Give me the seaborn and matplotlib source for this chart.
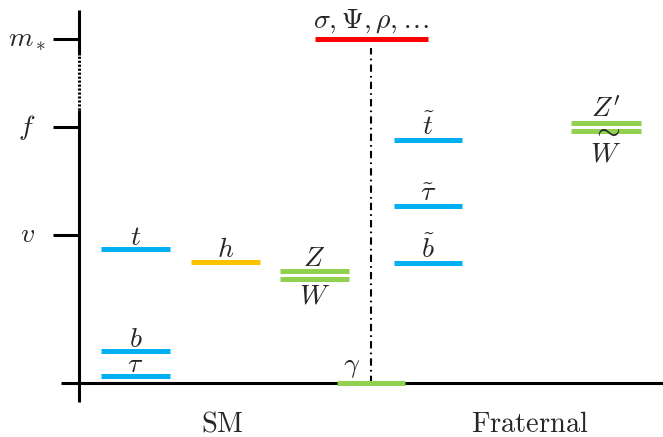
import matplotlib
matplotlib.use("Agg")
import matplotlib.pyplot as plt
import seaborn as sns
import pandas as pd

sns.set_style("white")
plt.rcParams["mathtext.fontset"] = "cm"
plt.rcParams["font.family"] = ["DejaVu Serif"]

# ---- data (energy scale in arbitrary units, 0 = ground) ----
scale_labels = [r"$m_*$", r"$f$", r"$v$"]
scale_values = [344, 256, 148]

level_names = ["t", "b", "tau", "h", "Z", "W", "gamma", "heavy",
               "t~", "tau~", "b~", "Zp", "W~"]
level_labels = [r"$t$", r"$b$", r"$\tau$", r"$h$", r"$Z$", r"$W$", r"$\gamma$",
                r"$\sigma, \Psi, \rho, \ldots$", r"$\tilde{t}$", r"$\tilde{\tau}$",
                r"$\tilde{b}$", r"$Z'$", r"$W$"]
level_x = [135.5, 135.5, 135.5, 225.5, 314.5, 314.5, 371, 371.5,
           428, 428, 428, 606, 606]
level_width = [69, 69, 69, 69, 69, 69, 68, 113, 68, 68, 68, 70, 70]
level_y = [134, 32, 7, 121, 112, 104, 0, 344, 243, 177, 120, 260, 252]
level_colors = ["#00B0F0", "#00B0F0", "#00B0F0", "#FFC000", "#92D050", "#92D050",
                "#92D050", "#FF0000", "#00B0F0", "#00B0F0", "#00B0F0",
                "#92D050", "#92D050"]
label_side = ["above", "above", "above", "above", "above", "below", "above",
              "above", "above", "above", "above", "above", "below"]
label_dx = [0, 0, 0, 0, 0, 0, -19, 0, 0, 0, 0, 0, 0]
label_gap = [4, 4, 4, 5, 5, 4, 11, 11, 5, 5, 5, 5, 10]
wide_accent = [None] * 12 + [r"$\sim$"]

sector_labels = [r"$\mathrm{SM}$", r"$\mathrm{Fraternal}$"]
sector_x = [222, 530]

# ---- figure ----
fig = plt.figure(figsize=(6.63, 4.37), dpi=100)
ax = fig.add_axes([0, 0, 1, 1])
ax.set_xlim(0, 663)
ax.set_ylim(-54, 383)

px = 0.72  # points per pixel
fs = 20

# energy axis
ax.plot([79, 79], [-19, 273], color="black", lw=2.2, solid_capstyle="butt", zorder=3)
ax.plot([79, 79], [273, 328], color="black", lw=2.2, linestyle=(0, (0.7, 0.6)), zorder=3)
ax.plot([79, 79], [328, 373], color="black", lw=2.2, solid_capstyle="butt", zorder=3)
ax.plot([61, 663], [0, 0], color="black", lw=2.2, solid_capstyle="butt", zorder=3)
for lab, val in zip(scale_labels, scale_values):
    ax.plot([53, 79], [val, val], color="black", lw=2.2, solid_capstyle="butt", zorder=3)
    ax.text(27, val, lab, fontsize=fs, ha="center", va="center")

# dash-dot separator
ax.plot([371, 371], [0, 335], color="black", lw=1.5,
        linestyle=(0, (3.5, 2, 0.8, 2)), zorder=2)

# levels
rows = []
for n, xc, w, y in zip(level_names, level_x, level_width, level_y):
    rows.append({"name": n, "x": xc - w / 2, "y": y})
    rows.append({"name": n, "x": xc + w / 2, "y": y})
df = pd.DataFrame(rows)
palette = dict(zip(level_names, level_colors))
sns.lineplot(data=df, x="x", y="y", hue="name", units="name", estimator=None,
             palette=palette, lw=3.6, legend=False, ax=ax, sort=False,
             solid_capstyle="butt", zorder=4)
ax.set_xlabel("")
ax.set_ylabel("")
ax.axis("off")

for lab, xc, y, side, dx, gap, acc in zip(level_labels, level_x, level_y, label_side,
                                          label_dx, label_gap, wide_accent):
    if side == "above":
        ax.annotate(lab, (xc, y), xytext=(dx * px, gap * px), textcoords="offset points",
                    ha="center", va="baseline", fontsize=fs)
    else:
        ax.annotate(lab, (xc, y), xytext=(dx * px, -gap * px), textcoords="offset points",
                    ha="center", va="top", fontsize=fs)
    if acc is not None:
        ax.annotate(acc, (xc, y), xytext=(dx * px, -6.5 * px), textcoords="offset points",
                    ha="center", va="baseline", fontsize=fs + 2, zorder=6)

for lab, xc in zip(sector_labels, sector_x):
    ax.text(xc, -49, lab, fontsize=20.5, ha="center", va="baseline")

fig.savefig("out.png", dpi=100)
